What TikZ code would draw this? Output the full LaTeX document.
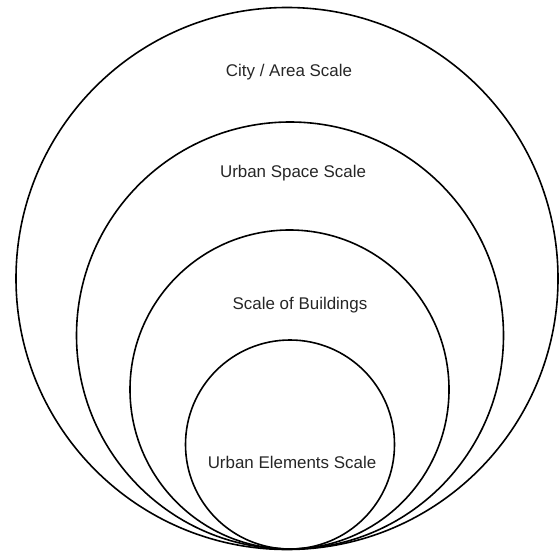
\documentclass[tikz,border=0pt]{standalone}
\usepackage{fontspec}
\setmainfont{Liberation Sans}
\begin{document}
\begin{tikzpicture}[x=1bp,y=-1bp,
  ring/.style={circle,draw=black,line width=1.6pt,inner sep=0pt,outer sep=0pt},
  lbl/.style={font=\fontsize{17}{20}\selectfont,text=black!85,inner sep=0pt}]
\useasboundingbox (0,0) rectangle (560,552);
\node[ring,minimum size=542bp] (c1) at (287,278.5) {};
\node[ring,minimum size=427bp] (c2) at (290,335.5) {};
\node[ring,minimum size=319bp] (c3) at (289.5,389.5) {};
\node[ring,minimum size=209bp] (c4) at (290,444.5) {};
\node[lbl] (t1) at (289,72) {City / Area Scale};
\node[lbl] (t2) at (293,173) {Urban Space Scale};
\node[lbl] (t3) at (300,305) {Scale of Buildings};
\node[lbl] (t4) at (292,462) {Urban Elements Scale};
\end{tikzpicture}
\end{document}
